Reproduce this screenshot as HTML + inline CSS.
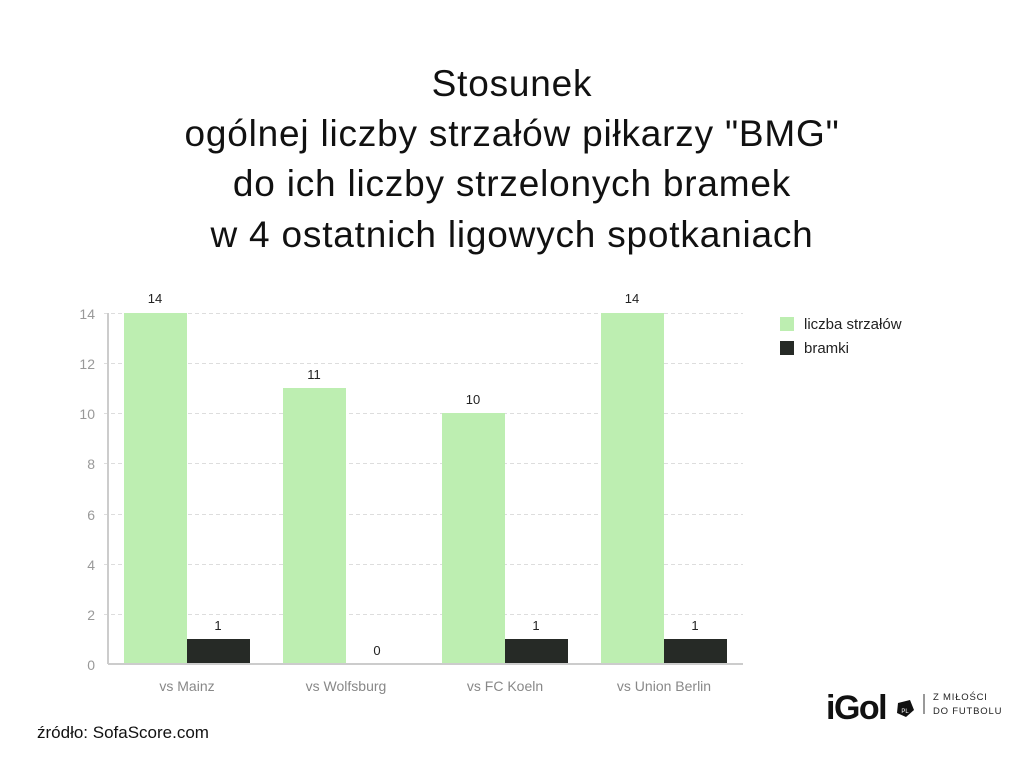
<!DOCTYPE html>
<html><head><meta charset="utf-8"><style>
body{margin:0;background:#fff;width:1024px;height:768px;overflow:hidden;font-family:"Liberation Sans",sans-serif}
</style></head><body>
<svg width="1024" height="768" xmlns="http://www.w3.org/2000/svg" font-family="Liberation Sans, sans-serif">
<g font-size="37" fill="#111" text-anchor="middle" letter-spacing="0.8">
<text x="512" y="96">Stosunek</text>
<text x="512" y="146">ogólnej liczby strzałów piłkarzy "BMG"</text>
<text x="512" y="196">do ich liczby strzelonych bramek</text>
<text x="512" y="247">w 4 ostatnich ligowych spotkaniach</text>
</g>
<g stroke="#ddd" stroke-dasharray="4,3" stroke-width="1">
<line x1="104" x2="743" y1="313.5" y2="313.5"/><line x1="104" x2="743" y1="363.5" y2="363.5"/>
<line x1="104" x2="743" y1="413.5" y2="413.5"/><line x1="104" x2="743" y1="463.5" y2="463.5"/>
<line x1="104" x2="743" y1="514.5" y2="514.5"/><line x1="104" x2="743" y1="564.5" y2="564.5"/>
<line x1="104" x2="743" y1="614.5" y2="614.5"/>
</g>
<g font-size="14" fill="#999" text-anchor="end">
<text x="95" y="319">14</text><text x="95" y="369">12</text><text x="95" y="419">10</text>
<text x="95" y="469">8</text><text x="95" y="520">6</text><text x="95" y="570">4</text>
<text x="95" y="620">2</text><text x="95" y="670">0</text>
</g>
<g fill="#bdeeb1">
<rect x="124" y="313" width="63" height="351"/>
<rect x="283" y="388" width="63" height="276"/>
<rect x="442" y="413" width="63" height="251"/>
<rect x="601" y="313" width="63" height="351"/>
</g>
<g fill="#262a26">
<rect x="187" y="639" width="63" height="25"/>
<rect x="505" y="639" width="63" height="25"/>
<rect x="664" y="639" width="63" height="25"/>
</g>
<line x1="108" x2="108" y1="313" y2="664" stroke="#ccc" stroke-width="2"/>
<line x1="108" x2="743" y1="664" y2="664" stroke="#ccc" stroke-width="2"/>
<g font-size="13" fill="#222" text-anchor="middle">
<text x="155" y="303">14</text><text x="218" y="630">1</text>
<text x="314" y="379">11</text><text x="377" y="655">0</text>
<text x="473" y="404">10</text><text x="536" y="630">1</text>
<text x="632" y="303">14</text><text x="695" y="630">1</text>
</g>
<g font-size="14" fill="#888" text-anchor="middle">
<text x="187" y="691">vs Mainz</text><text x="346" y="691">vs Wolfsburg</text>
<text x="505" y="691">vs FC Koeln</text><text x="664" y="691">vs Union Berlin</text>
</g>
<rect x="780" y="317" width="14" height="14" fill="#bdeeb1"/>
<rect x="780" y="341" width="14" height="14" fill="#262a26"/>
<g font-size="15" fill="#222"><text x="804" y="329">liczba strzałów</text><text x="804" y="353">bramki</text></g>
<text x="37" y="738" font-size="17" fill="#111">źródło: SofaScore.com</text>
<text x="826" y="719" font-size="34" font-weight="bold" fill="#111" letter-spacing="-1.5">iGol</text>
<polygon points="898,703 910,700 914,710 906,717 897,713" fill="#111"/>
<text x="905" y="713" font-size="6" fill="#fff" text-anchor="middle">PL</text>
<line x1="924" x2="924" y1="694" y2="714" stroke="#333" stroke-width="1"/>
<g font-size="9.5" fill="#222" letter-spacing="0.8"><text x="933" y="700">Z MIŁOŚCI</text><text x="933" y="714">DO FUTBOLU</text></g>
</svg>
</body></html>
